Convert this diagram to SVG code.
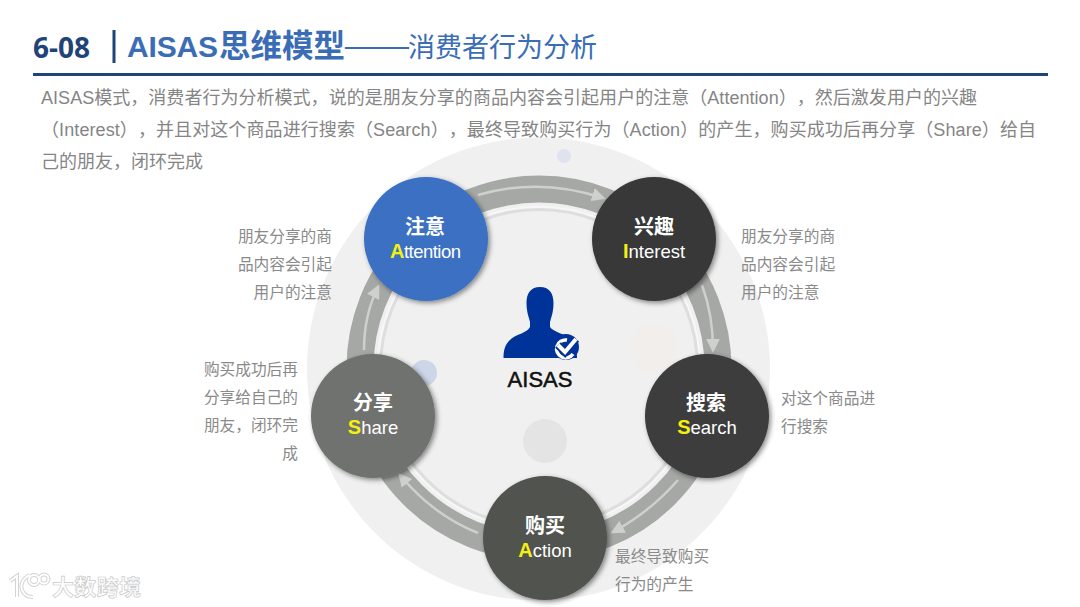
<svg xmlns="http://www.w3.org/2000/svg" width="1080" height="607" viewBox="0 0 1080 607">
<style>
text{font-family:"Liberation Sans","Noto Sans CJK SC",sans-serif;text-spacing-trim:space-all}
.body{font-size:18px;fill:#858585}
.lab{font-size:15.700px;fill:#8a8a8a}
.zh{font-size:20px;font-weight:700;fill:#fff;text-anchor:middle;font-family:"Noto Sans CJK SC",sans-serif}
.en{font-size:18.500px;fill:#fff;text-anchor:middle}
.y{fill:#f5f00f;font-weight:700;font-size:20px}
.flow{fill:none;stroke:#cfd0ce;stroke-width:2.500;marker-end:url(#ah)}
.wm{font-size:22px;font-weight:700;fill:#fff;stroke:#c9c9c9;stroke-width:.7;font-family:"Noto Sans CJK SC",sans-serif}
.logo{fill:none}
.tt{fill:#3a6db5;font-family:"Noto Sans CJK SC",sans-serif}
</style>
<defs>
<filter id="sh" x="-20%" y="-20%" width="145%" height="145%"><feDropShadow dx="2" dy="2" stdDeviation="2.500" flood-color="#000" flood-opacity=".45"/></filter>
<marker id="ah" viewBox="0 0 10 10" refX="8" refY="5" markerWidth="5.500" markerHeight="5.500" orient="auto"><path d="M0 0L10 5L0 10Z" fill="#cfd0ce"/></marker>
</defs>
<rect width="1080" height="607" fill="#fff"/>
<circle cx="538.500" cy="369" r="231.500" fill="#f0f0f0"/>
<g id="decor">
<circle cx="564" cy="156" r="7" fill="#dfe3ee"/>
<circle cx="654" cy="348" r="25" fill="#f2eeeb"/>
<circle cx="424" cy="373" r="13" fill="#cdd6e8"/>
<circle cx="545" cy="441" r="22" fill="#e4e4e4"/>
</g>
<g id="header">
<text x="33" y="58" font-size="28" font-weight="700" fill="#1f4477" style="font-family:'Open Sans',sans-serif">6-08</text>
<rect x="112.500" y="30" width="3" height="33" fill="#1f4477"/>
<text x="127" y="57" font-size="30" font-weight="700" fill="#3a6db5" textLength="91">AISAS</text>
<text class="tt" x="219" y="57" font-size="31.500" font-weight="700">思维模型</text>
<text class="tt" x="343" y="57" font-size="31.500" textLength="68" lengthAdjust="spacingAndGlyphs">——</text>
<text class="tt" x="408" y="57" font-size="27">消费者行为分析</text>
<rect x="33" y="73" width="1015" height="3" fill="#1f4477"/>
</g>
<g id="intro">
<text class="body" x="41" y="104" textLength="936">AISAS模式，消费者行为分析模式，说的是朋友分享的商品内容会引起用户的注意（Attention），然后激发用户的兴趣</text>
<text class="body" x="41" y="136" textLength="995">（Interest），并且对这个商品进行搜索（Search），最终导致购买行为（Action）的产生，购买成功后再分享（Share）给自</text>
<text class="body" x="41" y="168" textLength="162">己的朋友，闭环完成</text>
</g>
<g id="ring">
<circle cx="539" cy="368" r="179" fill="none" stroke="#a6a8a5" stroke-width="27"/>
<circle cx="539" cy="368" r="161" fill="none" stroke="#f7f7f7" stroke-width="2.500"/>
<circle cx="539" cy="368" r="158.500" fill="none" stroke="#dedede" stroke-width="3"/>
</g>
<g id="connectors">
<path class="flow" d="M478 195Q540 177 603 198"/>
<path class="flow" d="M702 285Q713 315 713 350"/>
<path class="flow" d="M678 480Q650 512 613 532"/>
<path class="flow" d="M478 533Q433 515 400 475"/>
<path class="flow" d="M364 350Q364 315 378 287"/>
</g>
<g id="center">
<path d="M540 287C549 287 553.500 293 553.500 303C553.500 312 551 318 550 322V327C553 332 566 334 572 340C576 345 577 352 577 358H503.500C503.500 350 505 344 511 339C517 334 527 333 530 327V322C529 318 526.500 312 526.500 303C526.500 293 531 287 540 287Z" fill="#003399"/>
<circle cx="566" cy="347" r="13" fill="#003399"/>
<path d="M573 354A9 9 0 1 1 567 340" fill="none" stroke="#fff" stroke-width="3.500"/>
<path d="M558 345L565 352L576 339" fill="none" stroke="#003399" stroke-width="8"/>
<path d="M558 345L565 352L576 339" fill="none" stroke="#fff" stroke-width="4"/>
<text x="540" y="387" font-size="22" fill="#111" text-anchor="middle" stroke="#111" stroke-width=".5">AISAS</text>
</g>
<g id="attention">
<circle cx="426" cy="239" r="62" fill="#3a70c2" filter="url(#sh)"/>
<text class="zh" x="425" y="234">注意</text>
<text class="en" x="425.500" y="258" textLength="71"><tspan class="y">A</tspan>ttention</text>
<text class="lab" x="332" y="241.500" text-anchor="end">朋友分享的商</text><text class="lab" x="332" y="269.500" text-anchor="end">品内容会引起</text><text class="lab" x="332" y="297.500" text-anchor="end">用户的注意</text>
</g>
<g id="interest">
<circle cx="654" cy="239" r="62" fill="#383838" filter="url(#sh)"/>
<text class="zh" x="654" y="234">兴趣</text>
<text class="en" x="654" y="258"><tspan class="y">I</tspan>nterest</text>
<text class="lab" x="741" y="241.500">朋友分享的商</text><text class="lab" x="741" y="269.500">品内容会引起</text><text class="lab" x="741" y="297.500">用户的注意</text>
</g>
<g id="search">
<circle cx="707" cy="416" r="62" fill="#3c3d3e" filter="url(#sh)"/>
<text class="zh" x="706" y="410">搜索</text>
<text class="en" x="707" y="434"><tspan class="y">S</tspan>earch</text>
<text class="lab" x="781" y="403.500">对这个商品进</text><text class="lab" x="781" y="431.500">行搜索</text>
</g>
<g id="action">
<circle cx="545" cy="538" r="62" fill="#51534f" filter="url(#sh)"/>
<text class="zh" x="545" y="533">购买</text>
<text class="en" x="545" y="557"><tspan class="y">A</tspan>ction</text>
<text class="lab" x="615" y="561.500">最终导致购买</text><text class="lab" x="615" y="589.500">行为的产生</text>
</g>
<g id="share">
<circle cx="373" cy="416" r="62" fill="#6f726f" filter="url(#sh)"/>
<text class="zh" x="373" y="410">分享</text>
<text class="en" x="373" y="434"><tspan class="y">S</tspan>hare</text>
<text class="lab" x="298" y="374.500" text-anchor="end">购买成功后再</text><text class="lab" x="298" y="402.500" text-anchor="end">分享给自己的</text><text class="lab" x="298" y="430.500" text-anchor="end">朋友，闭环完</text><text class="lab" x="298" y="458.500" text-anchor="end">成</text>
</g>
<g id="watermark">
<g class="logo" stroke="#d4d4d4" stroke-width="4"><path d="M10 581L17 576V597"/><path d="M30 575C23 578 20 584 22 590C24 595 28 597 33 597"/><circle cx="34" cy="580" r="5"/><circle cx="44" cy="579" r="4.500"/></g>
<g class="logo" stroke="#fff" stroke-width="2"><path d="M10 581L17 576V597"/><path d="M30 575C23 578 20 584 22 590C24 595 28 597 33 597"/><circle cx="34" cy="580" r="5"/><circle cx="44" cy="579" r="4.500"/></g>
<text class="wm" x="52" y="595" textLength="89">大数跨境</text>
</g>
</svg>
